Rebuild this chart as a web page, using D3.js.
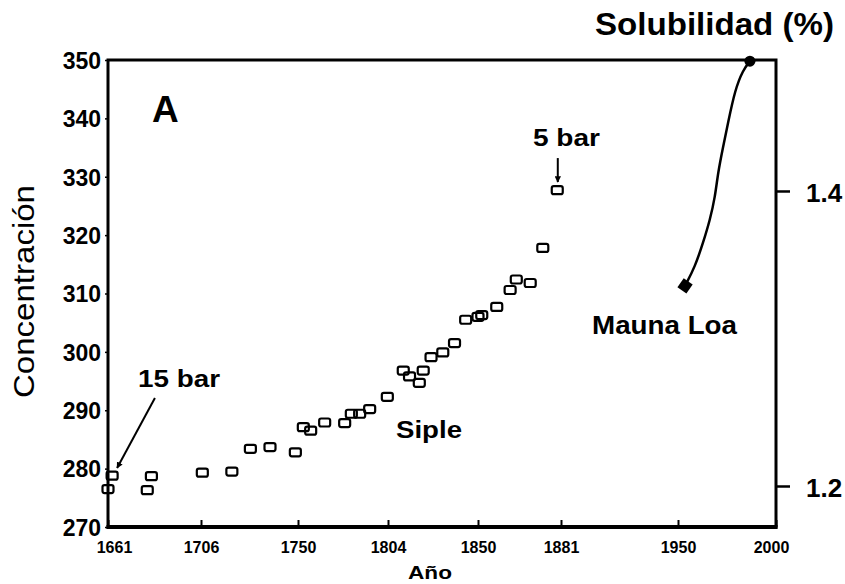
<!DOCTYPE html>
<html>
<head>
<meta charset="utf-8">
<script src="https://cdn.jsdelivr.net/npm/d3@7"></script>
<style>
  body { margin: 0; background: #fff; }
  svg { display: block; }
  text { font-family: "Liberation Sans", Arial, sans-serif; fill: #000; }
</style>
</head>
<body>
<script>
const width = 845;
const height = 584;
const margin = {top: 60, right: 69, bottom: 57, left: 108};
const w = width - margin.left - margin.right;
const h = height - margin.top - margin.bottom;

// Siple ice core (year, ppm)
const sipleYears = [1661, 1663, 1680, 1682, 1706.6, 1720, 1728.4, 1737.3, 1748.8, 1753.2,
  1757.6, 1766, 1778, 1782, 1787, 1793, 1803.6, 1811.8, 1815, 1820, 1822, 1826, 1832,
  1838, 1843.7, 1850, 1851.4, 1857, 1862, 1864.3, 1869.5, 1874.2, 1879.6];
const siplePpm = [276.5, 278.8, 276.3, 278.7, 279.3, 279.5, 283.4, 283.7, 282.8, 287.1,
  286.5, 287.9, 287.8, 289.4, 289.4, 290.2, 292.3, 296.8, 295.8, 294.7, 296.8, 299.1, 299.9,
  301.5, 305.5, 306.0, 306.3, 307.7, 310.6, 312.4, 311.8, 317.8, 327.7];

// Mauna Loa curve
const maunaYears = [1953.6, 1958.7, 1962.8, 1966.3, 1968.9, 1970.4, 1973.0, 1975.5, 1979.1, 1983.2, 1986.7];
const maunaPpm = [311.3, 314.6, 318.7, 322.6, 326.5, 330.7, 335.1, 339.2, 344.9, 348.3, 349.8];

const xTickLabels = [1661, 1706, 1750, 1804, 1850, 1881, 1950, 2000];
const yTicks = [270, 280, 290, 300, 310, 320, 330, 340, 350];
const solTicks = [1.2, 1.4];

// the printed year axis is not evenly spaced; stops along the axis (px from left)
const xStops = [0, 93, 190, 280, 370, 453, 570, 668];

const x = d3.scaleLinear().domain(xTickLabels).range(xStops);
const y = d3.scaleLinear().domain([270, 350]).range([h, 0]);
const ySol = d3.scaleLinear().domain([1.1722, 1.4888]).range([h, 0]);

const svg = d3.select("body").append("svg")
    .attr("width", width)
    .attr("height", height);

const g = svg.append("g")
    .attr("transform", "translate(" + margin.left + "," + margin.top + ")");

// frame
g.append("rect")
    .attr("width", w).attr("height", h)
    .attr("fill", "none").attr("stroke", "#000").attr("stroke-width", 3);
g.append("line")
    .attr("x1", -1.5).attr("x2", w + 1.5).attr("y1", h).attr("y2", h)
    .attr("stroke", "#000").attr("stroke-width", 4);

// left axis
const yAxis = g.append("g")
    .call(d3.axisLeft(y).tickValues(yTicks).tickSize(3).tickPadding(4));
yAxis.select(".domain").remove();
yAxis.selectAll("line").attr("stroke-width", 1.5);
yAxis.selectAll("text")
    .style("font-size", "23px").style("font-weight", "bold")
    .attr("dy", "0.36em");

// right axis
const rAxis = g.append("g")
    .attr("transform", "translate(" + w + ",0)")
    .call(d3.axisRight(ySol).tickValues(solTicks).tickSize(14).tickPadding(16).tickFormat(d3.format(".1f")));
rAxis.select(".domain").remove();
rAxis.selectAll("line").attr("stroke-width", 2.5);
rAxis.selectAll("text")
    .style("font-size", "26px").style("font-weight", "bold")
    .attr("dy", "0.42em");

// bottom axis
const xAxis = g.append("g")
    .attr("transform", "translate(0," + h + ")")
    .call(d3.axisBottom(x).tickValues(xTickLabels).tickSize(-7).tickPadding(15).tickFormat(d3.format("d")));
xAxis.select(".domain").remove();
xAxis.selectAll("line").attr("stroke-width", 2);
xAxis.selectAll("text")
    .style("font-size", "16px").style("font-weight", "bold")
    .attr("dx", d => d === 1661 ? 6 : d === 2000 ? -5 : 0);

// Siple points
g.selectAll("rect.pt")
  .data(sipleYears.map((d, i) => ({year: d, v: siplePpm[i]})))
  .enter()
  .append("rect")
    .attr("class", "pt")
    .attr("x", d => x(d.year) - 5.5)
    .attr("y", d => y(d.v) - 4)
    .attr("width", 11).attr("height", 8).attr("rx", 2)
    .attr("fill", "none").attr("stroke", "#000").attr("stroke-width", 2.2);

// Mauna Loa curve
const mauna = maunaYears.map((d, i) => [d, maunaPpm[i]]);
const line = d3.line()
    .x(d => x(d[0]))
    .y(d => y(d[1]))
    .curve(d3.curveBasis);

g.append("path")
    .attr("d", line(mauna))
    .attr("fill", "none").attr("stroke", "#000").attr("stroke-width", 2.5);

g.append("path")
    .attr("d", d3.symbol(d3.symbolSquare, 120)())
    .attr("transform", "translate(" + x(mauna[0][0]) + "," + y(mauna[0][1]) + ") rotate(35)");

g.append("circle")
    .attr("cx", x(mauna[mauna.length - 1][0]))
    .attr("cy", y(mauna[mauna.length - 1][1]))
    .attr("r", 5.5);

// arrows
svg.append("defs").append("marker")
    .attr("id", "head")
    .attr("viewBox", "0 0 10 10")
    .attr("refX", 9).attr("refY", 5)
    .attr("markerWidth", 3.2).attr("markerHeight", 3.2)
    .attr("orient", "auto")
  .append("path")
    .attr("d", "M0,0L10,5L0,10Z");

g.append("line")
    .attr("x1", x(1683.7)).attr("y1", y(292.1))
    .attr("x2", x(1665.4)).attr("y2", y(280.1))
    .attr("stroke", "#000").attr("stroke-width", 2)
    .attr("marker-end", "url(#head)");

g.append("line")
    .attr("x1", x(1879.8)).attr("y1", y(333.2))
    .attr("x2", x(1879.8)).attr("y2", y(329.1))
    .attr("stroke", "#000").attr("stroke-width", 2)
    .attr("marker-end", "url(#head)");

// labels
function label(txt, px, py, size, len, weight) {
  const t = svg.append("text")
      .attr("x", px).attr("y", py)
      .style("font-size", size + "px")
      .style("font-weight", weight || "bold")
      .text(txt);
  if (len) t.attr("textLength", len).attr("lengthAdjust", "spacingAndGlyphs");
  return t;
}

label("Solubilidad (%)", 595, 35, 31, 239);
label("A", 152, 122, 37);
label("5 bar", 533, 146, 23, 67);
label("15 bar", 138, 387, 23, 82);
label("Siple", 396, 438, 23, 66);
label("Mauna Loa", 592, 334, 26, 145);
label("Año", 408, 579, 19, 44);

svg.append("text")
    .attr("transform", "translate(34,291.5) rotate(-90)")
    .attr("text-anchor", "middle")
    .attr("textLength", 213).attr("lengthAdjust", "spacingAndGlyphs")
    .style("font-size", "30px")
    .text("Concentración");
</script>
</body>
</html>
